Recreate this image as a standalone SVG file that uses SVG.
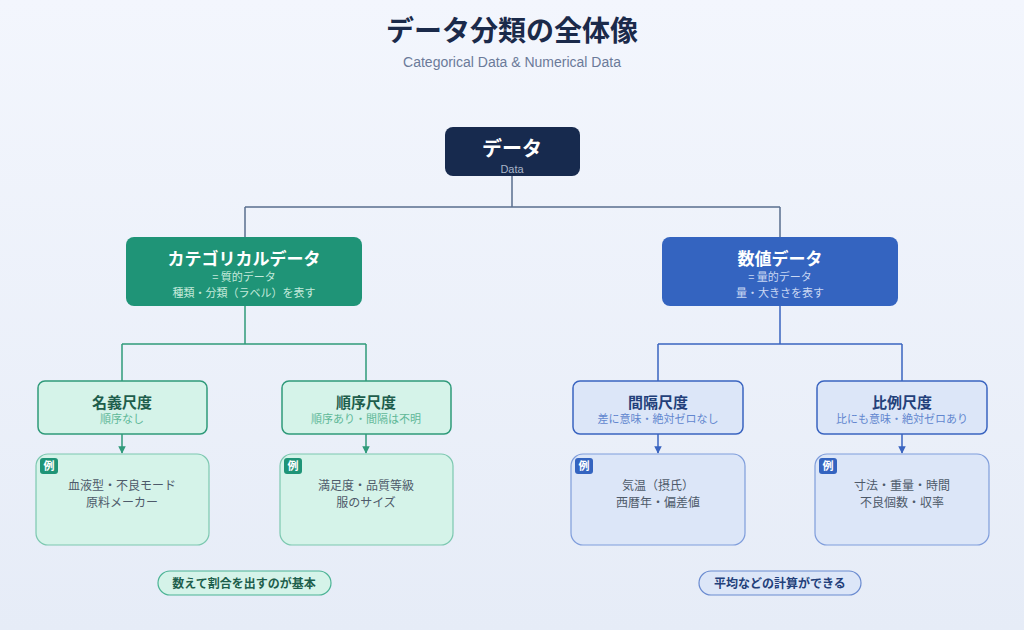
<svg xmlns="http://www.w3.org/2000/svg" width="1024" height="630" viewBox="0 0 1024 630">
<defs>
<linearGradient id="bg" x1="0" y1="0" x2="0" y2="1">
<stop offset="0" stop-color="#f3f6fd"/>
<stop offset="1" stop-color="#e6ecf7"/>
</linearGradient>
<marker id="ag" viewBox="0 0 10 10" refX="9" refY="5" markerWidth="5" markerHeight="5" orient="auto"><path d="M0,0 L10,5 L0,10 z" fill="#2f9a7a"/></marker>
<marker id="ab" viewBox="0 0 10 10" refX="9" refY="5" markerWidth="5" markerHeight="5" orient="auto"><path d="M0,0 L10,5 L0,10 z" fill="#3a64c0"/></marker>
<style>
text{font-family:"Noto Sans CJK JP","Noto Sans",sans-serif;text-anchor:middle}
.t{font-size:28px;font-weight:700;fill:#1b2a4a}
.st{font-family:"Liberation Sans","Noto Sans",sans-serif;font-size:14px;fill:#6b7a99}
.w{fill:#ffffff;font-weight:700}
.g3{fill:#d5f3e9;stroke:#2f9a7a;stroke-width:1.5}
.b3{fill:#dce6f8;stroke:#3a64c0;stroke-width:1.5}
.gex{fill:#d5f3e9;stroke:#7cc8b0;stroke-width:1.2}
.bex{fill:#dce6f8;stroke:#7f9ddb;stroke-width:1.2}
.gh{font-size:15px;font-weight:700;fill:#1e5e4c}
.bh{font-size:15px;font-weight:700;fill:#23407a}
.gs{font-size:11px;fill:#5fb898}
.bs{font-size:11px;fill:#6286cf}
.ex{font-size:12px;fill:#4e5a6a}
.badge{font-size:11px;font-weight:700;fill:#ffffff}
.lg{fill:none;stroke:#2f9a7a;stroke-width:1.5}
.lb{fill:none;stroke:#3a64c0;stroke-width:1.5}
.lr{fill:none;stroke:#5a6f8f;stroke-width:1.5}
</style>
</defs>
<rect width="1024" height="630" fill="url(#bg)"/>
<text class="t" x="512" y="41">データ分類の全体像</text>
<text class="st" x="512" y="67">Categorical Data &amp; Numerical Data</text>

<g id="connectors">
<path class="lr" d="M512,176 V207 M245,207 H780 M245,207 V237 M780,207 V237"/>
<path class="lg" d="M245,306 V344 M122,344 H366 M122,344 V381 M366,344 V381"/>
<path class="lb" d="M780,306 V344 M658,344 H902 M658,344 V381 M902,344 V381"/>
<path class="lg" d="M122,434 V453" marker-end="url(#ag)"/>
<path class="lg" d="M366,434 V453" marker-end="url(#ag)"/>
<path class="lb" d="M658,434 V453" marker-end="url(#ab)"/>
<path class="lb" d="M902,434 V453" marker-end="url(#ab)"/>
</g>

<g id="root">
<rect x="445" y="127" width="135" height="49" rx="8" fill="#172a4e"/>
<text class="w" x="512" y="156" font-size="20">データ</text>
<text x="512" y="173" font-size="11" fill="#a8b4c8" style="font-family:'Liberation Sans',sans-serif">Data</text>
</g>

<g id="categorical">
<rect x="126" y="237" width="236" height="69" rx="8" fill="#1f9477"/>
<text class="w" x="244" y="265" font-size="17">カテゴリカルデータ</text>
<text x="244" y="281" font-size="11" fill="#c4eadb">= 質的データ</text>
<text x="244" y="297" font-size="11" fill="#c4eadb">種類・分類（ラベル）を表す</text>
</g>

<g id="numerical">
<rect x="662" y="237" width="236" height="69" rx="8" fill="#3464c0"/>
<text class="w" x="780" y="265" font-size="17">数値データ</text>
<text x="780" y="281" font-size="11" fill="#c9d7f3">= 量的データ</text>
<text x="780" y="297" font-size="11" fill="#c9d7f3">量・大きさを表す</text>
</g>

<g id="nominal">
<rect class="g3" x="38" y="381" width="169" height="53" rx="7"/>
<text class="gh" x="122" y="408">名義尺度</text>
<text class="gs" x="122" y="423">順序なし</text>
</g>
<g id="ordinal">
<rect class="g3" x="282" y="381" width="169" height="53" rx="7"/>
<text class="gh" x="366" y="408">順序尺度</text>
<text class="gs" x="366" y="423">順序あり・間隔は不明</text>
</g>
<g id="interval">
<rect class="b3" x="573" y="381" width="170" height="53" rx="7"/>
<text class="bh" x="658" y="408">間隔尺度</text>
<text class="bs" x="658" y="423">差に意味・絶対ゼロなし</text>
</g>
<g id="ratio">
<rect class="b3" x="817" y="381" width="170" height="53" rx="7"/>
<text class="bh" x="902" y="408">比例尺度</text>
<text class="bs" x="902" y="423">比にも意味・絶対ゼロあり</text>
</g>

<g id="ex-nominal">
<rect class="gex" x="36" y="454" width="173" height="91" rx="12"/>
<rect x="40" y="458" width="18" height="16" rx="3" fill="#1f9477"/>
<text class="badge" x="49" y="470">例</text>
<text class="ex" x="122" y="490">血液型・不良モード</text>
<text class="ex" x="122" y="507">原料メーカー</text>
</g>
<g id="ex-ordinal">
<rect class="gex" x="280" y="454" width="173" height="91" rx="12"/>
<rect x="284" y="458" width="18" height="16" rx="3" fill="#1f9477"/>
<text class="badge" x="293" y="470">例</text>
<text class="ex" x="366" y="490">満足度・品質等級</text>
<text class="ex" x="366" y="507">服のサイズ</text>
</g>
<g id="ex-interval">
<rect class="bex" x="571" y="454" width="174" height="91" rx="12"/>
<rect x="575" y="458" width="18" height="16" rx="3" fill="#3464c0"/>
<text class="badge" x="584" y="470">例</text>
<text class="ex" x="658" y="490">気温（摂氏）</text>
<text class="ex" x="658" y="507">西暦年・偏差値</text>
</g>
<g id="ex-ratio">
<rect class="bex" x="815" y="454" width="174" height="91" rx="12"/>
<rect x="819" y="458" width="18" height="16" rx="3" fill="#3464c0"/>
<text class="badge" x="828" y="470">例</text>
<text class="ex" x="902" y="490">寸法・重量・時間</text>
<text class="ex" x="902" y="507">不良個数・収率</text>
</g>

<g id="note-categorical">
<rect x="158" y="571" width="173" height="24" rx="12" fill="#d5f3e9" stroke="#4cb495" stroke-width="1.2"/>
<text x="244" y="588" font-size="12" font-weight="700" fill="#1e5e4c">数えて割合を出すのが基本</text>
</g>
<g id="note-numerical">
<rect x="699" y="571" width="162" height="24" rx="12" fill="#dce6f8" stroke="#6a8bd0" stroke-width="1.2"/>
<text x="780" y="588" font-size="12" font-weight="700" fill="#23407a">平均などの計算ができる</text>
</g>
</svg>
